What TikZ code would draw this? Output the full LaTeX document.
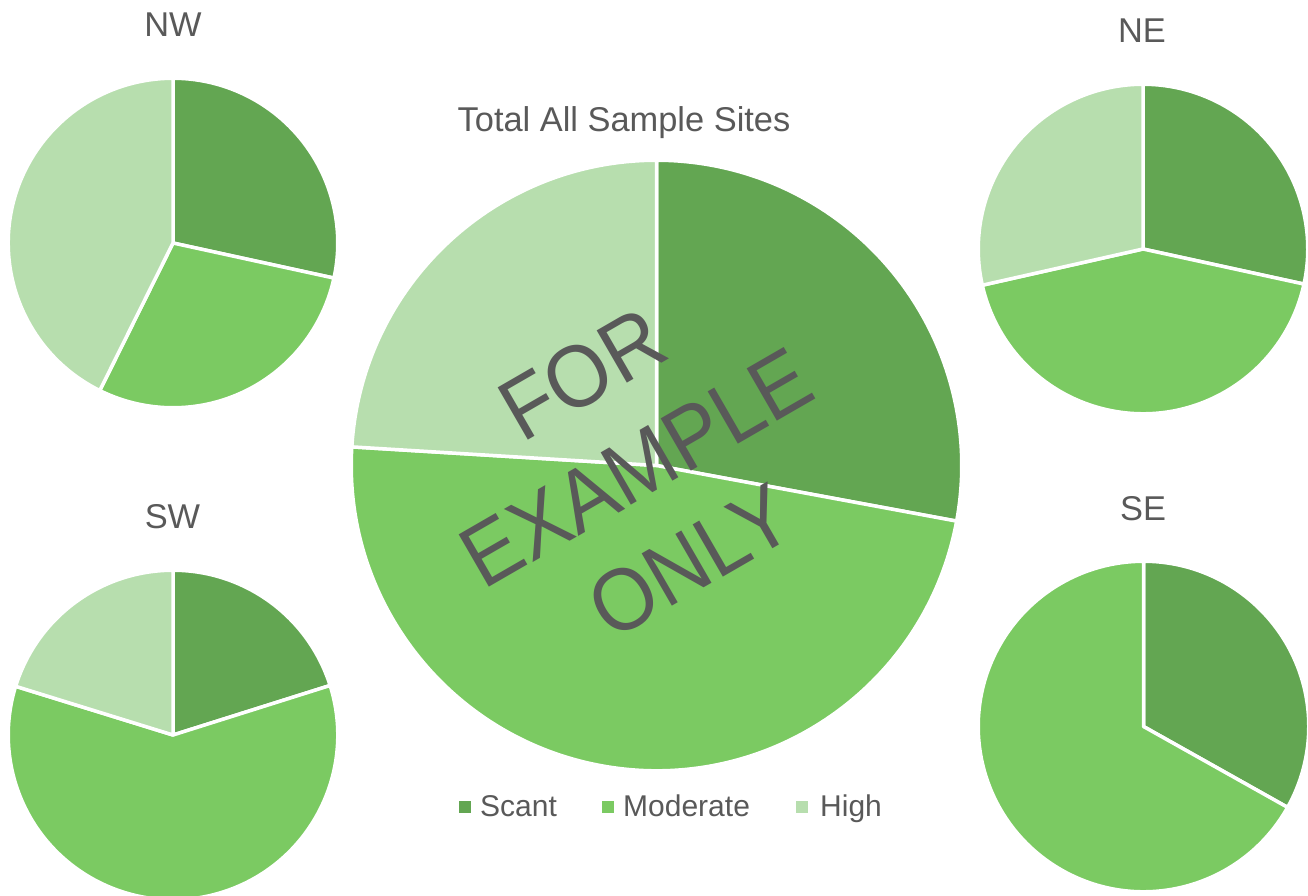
\documentclass[tikz,border=0pt]{standalone}
\usepackage{fontspec}
\setmainfont{Liberation Sans}
\definecolor{scant}{HTML}{63A652}
\definecolor{moderate}{HTML}{7BCA62}
\definecolor{high}{HTML}{B7DEAE}
\definecolor{txt}{HTML}{595959}
% #1,#2 centre; #3 radius; #4 start angle, #5 end angle (paper angles, clockwise); #6 colour
\newcommand\pieslice[6]{%
  \filldraw[slice, fill=#6] (#1,#2) -- ++({-(#4)}:#3)
    arc[start angle={-(#4)}, end angle={-(#5)}, radius=#3] -- cycle;}
\newcommand\wmtext[1]{\scalebox{1}[1.07]{#1}}
\begin{document}
\begin{tikzpicture}[x=1pt,y=-1pt,
  slice/.style={draw=white, line width=3.5pt, line join=round},
  ttl/.style={text=txt, inner sep=0pt, anchor=base, font=\fontsize{34.4}{40}\selectfont},
  leg/.style={text=txt, inner sep=0pt, anchor=base west, font=\fontsize{30}{36}\selectfont},
  sq/.style={minimum size=12pt, inner sep=0pt, draw=none},
  wm/.style={text=txt, inner sep=0pt, anchor=base, rotate=30, font=\fontsize{82}{90}\selectfont}]
\useasboundingbox (0,0) rectangle (1308,896);

% NW
\pieslice{173}{243}{164.75}{90}{-12.3}{scant}
\pieslice{173}{243}{164.75}{-12.3}{-116.4}{moderate}
\pieslice{173}{243}{164.75}{-116.4}{-270}{high}
% NE
\pieslice{1143}{249}{164.75}{90}{-12.3}{scant}
\pieslice{1143}{249}{164.75}{-12.3}{-167.3}{moderate}
\pieslice{1143}{249}{164.75}{-167.3}{-270}{high}
% SW
\pieslice{173}{735}{164.75}{90}{17.5}{scant}
\pieslice{173}{735}{164.75}{17.5}{-197.2}{moderate}
\pieslice{173}{735}{164.75}{-197.2}{-270}{high}
% SE
\pieslice{1143.5}{726.5}{165.25}{90}{-29.3}{scant}
\pieslice{1143.5}{726.5}{165.25}{-29.3}{-270}{moderate}
% Total
\pieslice{656.5}{465.5}{305.25}{90}{-10.5}{scant}
\pieslice{656.5}{465.5}{305.25}{-10.5}{-183.5}{moderate}
\pieslice{656.5}{465.5}{305.25}{-183.5}{-270}{high}

% titles
\node[ttl] (tnw) at (173,36.7) {NW};
\node[ttl] (tne) at (1142,42.3) {NE};
\node[ttl] (tsw) at (172.5,528) {SW};
\node[ttl] (tse) at (1143,520) {SE};
\node[ttl] (ttot) at (624,131.7) {Total All Sample Sites};

% legend
\node[sq, fill=scant] (sq1) at (465,807) {};
\node[leg] (l1) at (480,816.7) {Scant};
\node[sq, fill=moderate] (sq2) at (608,807) {};
\node[leg] (l2) at (623,816.7) {Moderate};
\node[sq, fill=high] (sq3) at (802,807) {};
\node[leg] (l3) at (820,816.7) {High};

% watermark
\node[wm] (w1) at (597.5,400.5) {\wmtext{FOR}};
\node[wm] (w2) at (651.5,494) {\wmtext{EXAMPLE}};
\node[wm] (w3) at (705.5,587.5) {\wmtext{ONLY}};
\end{tikzpicture}
\end{document}
